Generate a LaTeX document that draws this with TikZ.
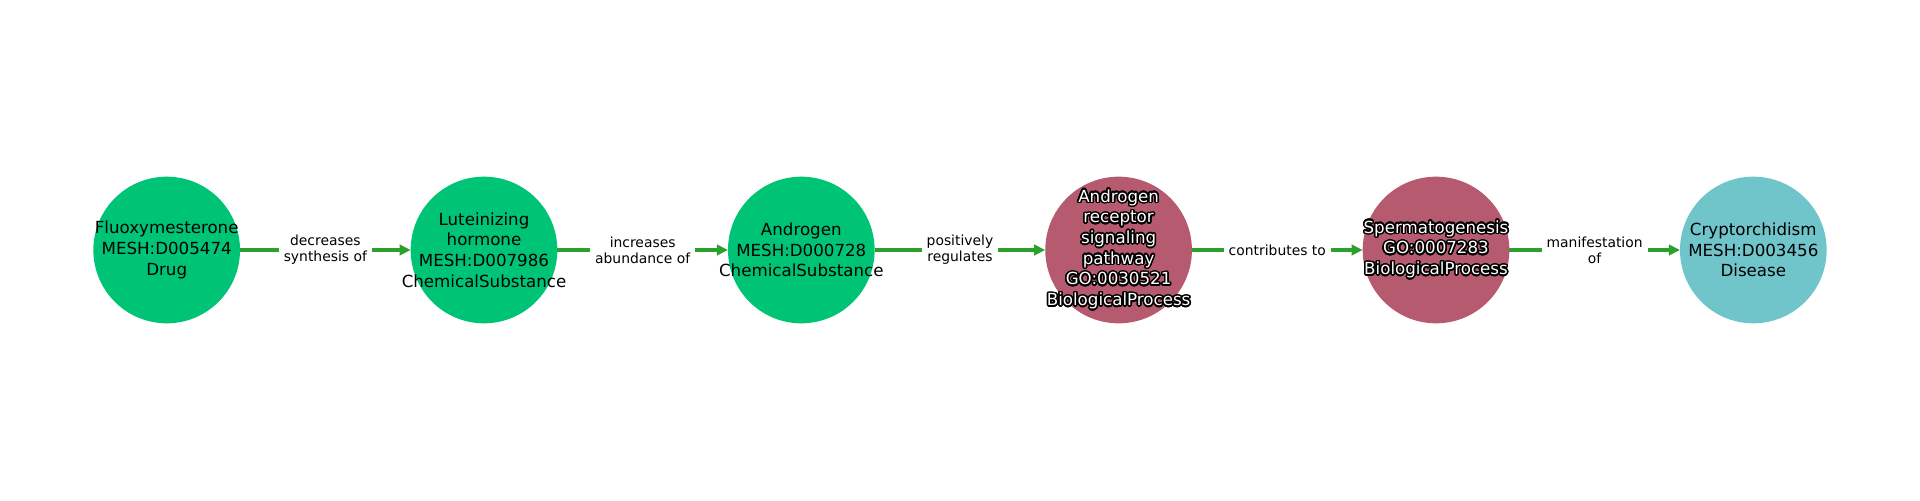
\documentclass[tikz,border=0pt]{standalone}
\usepackage{fontspec}
\setmainfont{DejaVu Sans}
\usepackage{contour}
\contourlength{1.1pt}
\contournumber{24}
\usetikzlibrary{arrows.meta}
\definecolor{ngreen}{HTML}{00C475}
\definecolor{ncrimson}{HTML}{B65A70}
\definecolor{nteal}{HTML}{70C5CB}
\definecolor{egreen}{HTML}{2CA02C}
\newcommand\ctr[1]{\contour{black}{#1}}
\begin{document}
\begin{tikzpicture}[x=0.72pt,y=0.72pt,
  circ/.style={circle,minimum size=105.6pt,inner sep=0pt,outer sep=0pt,draw=none},
  ntext/.style={align=center,font=\fontsize{12}{14.9}\selectfont,inner sep=0pt},
  wtext/.style={ntext,text=white},
  elabel/.style={fill=white,align=center,font=\fontsize{10}{11.5}\selectfont,inner sep=3.6pt},
  edge/.style={draw=egreen,line width=3pt,-{Triangle[length=8pt,width=7.5pt]}}
]
\useasboundingbox (0,0) rectangle (1920,500);
\node[circ,fill=ngreen]   (n1) at (166.7,250) {};
\node[circ,fill=ngreen]   (n2) at (484.0,250) {};
\node[circ,fill=ngreen]   (n3) at (801.3,250) {};
\node[circ,fill=ncrimson] (n4) at (1118.6,250) {};
\node[circ,fill=ncrimson] (n5) at (1436.0,250) {};
\node[circ,fill=nteal]    (n6) at (1753.3,250) {};

\node[ntext] (t1) at (n1) {Fluoxymesterone\\MESH:D005474\\Drug};
\node[ntext] (t2) at (n2) {Luteinizing\\hormone\\MESH:D007986\\ChemicalSubstance};
\node[ntext] (t3) at (n3) {Androgen\\MESH:D000728\\ChemicalSubstance};
\node[wtext] (t4) at (n4) {\ctr{Androgen}\\\ctr{receptor}\\\ctr{signaling}\\\ctr{pathway}\\\ctr{GO:0030521}\\\ctr{BiologicalProcess}};
\node[wtext] (t5) at (n5) {\ctr{Spermatogenesis}\\\ctr{GO:0007283}\\\ctr{BiologicalProcess}};
\node[ntext] (t6) at (n6) {Cryptorchidism\\MESH:D003456\\Disease};

\draw[edge] (n1) -- node[elabel] (l1) {decreases\\synthesis of} (n2);
\draw[edge] (n2) -- node[elabel] (l2) {increases\\abundance of} (n3);
\draw[edge] (n3) -- node[elabel] (l3) {positively\\regulates} (n4);
\draw[edge] (n4) -- node[elabel] (l4) {contributes to} (n5);
\draw[edge] (n5) -- node[elabel] (l5) {manifestation\\of} (n6);
\end{tikzpicture}
\end{document}
